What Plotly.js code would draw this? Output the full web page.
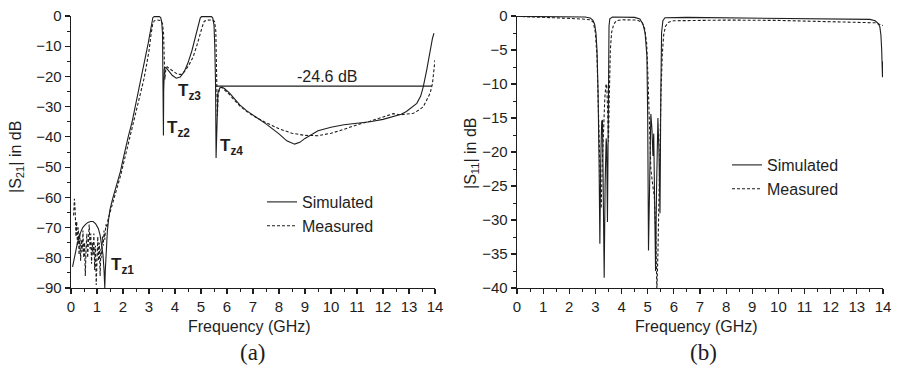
<!DOCTYPE html>
<html>
<head>
<meta charset="utf-8">
<script src="https://cdn.plot.ly/plotly-3.0.1.min.js"></script>
<style>html,body{margin:0;padding:0;background:#fff;}#chart{width:899px;height:367px;}</style>
</head>
<body>
<div id="chart"></div>
<script>
// ---- (a) |S21| ----
var s21SimF = [0.06,0.15,0.25,0.35,0.45,0.55,0.65,0.75,0.85,0.95,1.05,1.12,1.18,1.23,1.27,1.30,1.32,1.36,1.40,1.45,1.50,1.60,1.70,1.80,1.90,2.00,2.10,2.20,2.35,2.50,2.60,2.72,2.85,2.97,3.05,3.10,3.15,3.20,3.40,3.45,3.49,3.52,3.545,3.555,3.565,3.59,3.65,3.75,3.90,4.05,4.20,4.35,4.50,4.65,4.80,4.90,4.97,5.02,5.40,5.45,5.50,5.53,5.56,5.58,5.61,5.65,5.72,5.80,5.90,6.10,6.30,6.50,6.75,7.00,7.50,8.00,8.30,8.60,8.80,9.00,9.20,9.50,10.00,10.50,11.00,11.50,12.00,12.40,12.70,12.90,13.10,13.30,13.45,13.55,13.68,13.81,13.90,13.96];
var s21SimDb = [-83,-79,-75,-72,-70,-69,-68.3,-68,-68,-68.8,-70.3,-72.5,-75.5,-79,-84,-90,-84,-75,-71,-67,-64,-60.5,-57.5,-55,-51.5,-47.5,-43.5,-40,-35,-29,-25,-20,-14,-9,-4.5,-2,-0.5,-0.2,-0.2,-0.5,-2,-6,-20,-39.5,-25,-17.5,-17,-18,-19.7,-20.6,-20.2,-18.5,-15.5,-11.5,-6,-2.5,-0.7,-0.2,-0.2,-0.6,-3,-10,-23,-47,-32,-25.5,-23.8,-23.5,-24,-25.5,-27.5,-29.5,-31.3,-32.8,-35.7,-39,-41.3,-42.4,-41.8,-40.5,-39.4,-38,-36.8,-36,-35.5,-35,-34.2,-33.3,-32.5,-31.6,-30.3,-28.9,-26.5,-23.4,-17.9,-11.2,-7.5,-5.7];

var s21MeasF = [0.10,0.13,0.16,0.19,0.22,0.25,0.28,0.31,0.34,0.37,0.40,0.43,0.46,0.49,0.52,0.55,0.58,0.61,0.64,0.67,0.70,0.73,0.76,0.79,0.82,0.85,0.88,0.91,0.94,0.97,1.00,1.03,1.06,1.09,1.12,1.15,1.18,1.21,1.24,1.27,1.30,1.34,1.38,1.42,1.50,1.60,1.70,1.80,1.90,2.00,2.20,2.40,2.60,2.80,2.90,3.00,3.08,3.14,3.20,3.30,3.45,3.52,3.56,3.59,3.61,3.64,3.70,3.80,3.95,4.10,4.25,4.40,4.55,4.70,4.85,4.95,5.05,5.12,5.20,5.45,5.52,5.57,5.60,5.63,5.66,5.72,5.80,5.90,6.10,6.30,6.50,6.75,7.00,7.50,8.00,8.50,9.00,9.50,10.00,10.50,11.00,11.50,12.00,12.40,12.65,12.90,13.17,13.40,13.55,13.70,13.81,13.90,13.94,14.00];
var s21MeasDb = [-66,-60.5,-64,-73,-68,-76,-70,-79,-72,-81,-74,-78,-71,-80,-75,-86,-77,-72,-80,-73,-69,-77,-72,-82,-75,-79,-72,-84,-76,-89,-78,-73,-81,-75,-86,-77,-80,-73,-76,-71,-74,-69,-70,-67.5,-65,-62,-59,-56.5,-53,-49.5,-42.5,-36,-28.5,-21,-16.5,-11.5,-6,-2.8,-1.6,-1.3,-1.5,-2.5,-6,-14,-21,-18,-16.8,-17.5,-18.5,-19.3,-19.3,-18,-16,-13.5,-9.5,-6.2,-3.5,-1.8,-1.4,-1.3,-1.8,-5,-15,-33,-26,-24,-23.6,-24.3,-26,-28,-29.8,-31.5,-33,-35.3,-37.3,-38.8,-39.5,-39.6,-38.8,-37.5,-36,-34.8,-33.5,-32.3,-32.7,-32.5,-32.2,-31,-30,-27.5,-25.6,-22.5,-20,-14.6];

var refLineF = [5.54, 13.88];
var refLineDb = [-23.2, -23.2];

// ---- (b) |S11| ----
var s11SimF = [0.0,1.0,2.0,2.6,2.8,2.9,2.97,3.02,3.06,3.10,3.14,3.17,3.20,3.24,3.27,3.30,3.335,3.37,3.41,3.43,3.46,3.49,3.52,3.55,3.65,4.50,4.70,4.82,4.90,4.97,5.00,5.03,5.07,5.12,5.16,5.20,5.23,5.27,5.30,5.34,5.39,5.43,5.47,5.50,5.53,5.58,5.66,6.50,8.00,10.00,12.00,13.00,13.50,13.70,13.82,13.88,13.92,13.95,13.98,14.00];
var s11SimDb = [-0.05,-0.05,-0.1,-0.15,-0.3,-0.6,-1.2,-2.5,-5,-11,-22,-33.5,-22,-15.5,-15.3,-25,-38.5,-25,-18,-19,-30.3,-12,-1.5,-0.4,-0.15,-0.2,-0.45,-1.2,-2.5,-6,-15,-34.5,-22,-14.4,-16.5,-20.6,-17.3,-27,-37.5,-25,-15,-20,-29,-12,-2.5,-0.7,-0.25,-0.2,-0.25,-0.3,-0.35,-0.4,-0.5,-0.7,-1.1,-1.6,-2.8,-5,-9,-6.7];

var s11MeasF = [0.0,0.5,1.0,1.5,2.0,2.5,2.8,2.92,3.00,3.06,3.11,3.15,3.19,3.22,3.26,3.31,3.36,3.40,3.43,3.46,3.50,3.53,3.57,3.62,3.70,3.80,4.00,4.60,4.78,4.88,4.96,5.01,5.06,5.12,5.18,5.25,5.31,5.35,5.39,5.43,5.48,5.51,5.56,5.61,5.68,5.80,6.00,8.00,10.00,12.00,13.00,13.70,13.85,14.00];
var s11MeasDb = [-0.05,-0.1,-0.2,-0.3,-0.35,-0.45,-0.55,-0.9,-2.5,-6,-12,-19,-26,-28.3,-22,-15.5,-12,-10.2,-10,-13,-18.5,-12,-5,-2.4,-1.2,-0.7,-0.55,-0.6,-0.9,-1.8,-4,-9,-17,-22.5,-24.5,-26.5,-32,-40.5,-35,-26,-17,-11,-5.5,-2.8,-1.5,-0.9,-0.7,-0.6,-0.65,-0.8,-0.9,-1.0,-1.2,-1.4];

var xTickVals = [0,1,2,3,4,5,6,7,8,9,10,11,12,13,14];
var seriesNames = ['Simulated', 'Measured'];

var FONT = 'Liberation Sans, Arial, Helvetica, sans-serif';
var INK = '#1e1e1e';
var W = 899, H = 367;
function px(x){ return x / W; }
function py(y){ return 1 - y / H; }

var solid = {color: INK, width: 1.1, dash: 'solid'};
var dashed = {color: INK, width: 1.1, dash: '3px,2px'};

var traces = [
  {x: s21SimF, y: s21SimDb, mode: 'lines', name: seriesNames[0], line: solid, xaxis: 'x', yaxis: 'y', legend: 'legend'},
  {x: s21MeasF, y: s21MeasDb, mode: 'lines', name: seriesNames[1], line: dashed, xaxis: 'x', yaxis: 'y', legend: 'legend'},
  {x: refLineF, y: refLineDb, mode: 'lines', showlegend: false, line: {color: INK, width: 1.1}, xaxis: 'x', yaxis: 'y'},
  {x: s11SimF, y: s11SimDb, mode: 'lines', name: seriesNames[0], line: solid, xaxis: 'x2', yaxis: 'y2', legend: 'legend2'},
  {x: s11MeasF, y: s11MeasDb, mode: 'lines', name: seriesNames[1], line: dashed, xaxis: 'x2', yaxis: 'y2', legend: 'legend2'}
];

function xAxis(dom, anchor){
  return {domain: dom, anchor: anchor, range: [0, 14], tickvals: xTickVals, ticks: 'outside', ticklen: 5, tickwidth: 1.2, tickcolor: INK,
    ticklabelstandoff: 0,
    showline: true, linecolor: INK, linewidth: 1.3, showgrid: false, zeroline: false, fixedrange: true,
    minor: {dtick: 0.5, ticks: 'outside', ticklen: 3, tickwidth: 1, tickcolor: INK, showgrid: false},
    tickfont: {family: FONT, size: 15, color: INK}};
}
function yAxis(dom, anchor, rng, dt, mdt){
  return {domain: dom, anchor: anchor, range: rng, dtick: dt, tick0: 0, ticks: 'outside', ticklen: 5, tickwidth: 1.2, tickcolor: INK,
    showline: true, linecolor: INK, linewidth: 1.3, showgrid: false, zeroline: false, fixedrange: true,
    minor: {dtick: mdt, ticks: 'outside', ticklen: 3, tickwidth: 1, tickcolor: INK, showgrid: false},
    tickfont: {family: FONT, size: 15, color: INK}};
}

var yDom = [py(288), py(16)];

var tzFont = {family: FONT, size: 17, color: INK};
function paperText(x, y, text, font, angle){
  return {xref: 'paper', yref: 'paper', x: px(x), y: py(y), xanchor: 'center', yanchor: 'middle', text: text,
    showarrow: false, font: font, textangle: angle || 0};
}
var axisFont = {family: FONT, size: 16, color: INK};
var serifFont = {family: 'Liberation Serif, Times New Roman, serif', size: 23, color: INK};
var annotations = [
  paperText(249, 326, 'Frequency (GHz)', axisFont),
  paperText(696, 326, 'Frequency (GHz)', axisFont),
  paperText(16, 157, '|S<sub>21</sub>| in dB', axisFont, -90),
  paperText(471, 153, '|S<sub>11</sub>| in dB', axisFont, -90),
  paperText(253, 352, '(a)', serifFont),
  paperText(703, 352, '(b)', serifFont),
  {xref: 'x', yref: 'y', x: 1.48, y: -82.7, xanchor: 'left', yanchor: 'middle', text: '<b>T<sub>z1</sub></b>', showarrow: false, font: tzFont},
  {xref: 'x', yref: 'y', x: 3.62, y: -37.5, xanchor: 'left', yanchor: 'middle', text: '<b>T<sub>z2</sub></b>', showarrow: false, font: tzFont},
  {xref: 'x', yref: 'y', x: 4.05, y: -25.2, xanchor: 'left', yanchor: 'middle', text: '<b>T<sub>z3</sub></b>', showarrow: false, font: tzFont},
  {xref: 'x', yref: 'y', x: 5.66, y: -43.2, xanchor: 'left', yanchor: 'middle', text: '<b>T<sub>z4</sub></b>', showarrow: false, font: tzFont},
  {xref: 'x', yref: 'y', x: 9.83, y: -20.1, xanchor: 'center', yanchor: 'middle', text: '-24.6 dB', showarrow: false, font: {family: FONT, size: 16, color: INK}}
];

var legendFont = {family: FONT, size: 16, color: INK};
var layout = {
  width: W, height: H, margin: {l: 0, r: 0, t: 0, b: 0}, paper_bgcolor: '#fff', plot_bgcolor: '#fff',
  showlegend: true,
  xaxis: xAxis([px(71), px(435)], 'y'),
  yaxis: yAxis(yDom, 'x', [-90, 0], 10, 5),
  xaxis2: xAxis([px(517), px(883)], 'y2'),
  yaxis2: yAxis(yDom, 'x2', [-40, 0], 5, 2.5),
  legend: {x: px(262), y: py(185), xanchor: 'left', yanchor: 'top', bgcolor: 'rgba(0,0,0,0)', borderwidth: 0,
    font: legendFont, tracegroupgap: 0, itemwidth: 30},
  legend2: {x: px(727), y: py(148), xanchor: 'left', yanchor: 'top', bgcolor: 'rgba(0,0,0,0)', borderwidth: 0,
    font: legendFont, tracegroupgap: 0, itemwidth: 30},
  annotations: annotations
};

Plotly.newPlot('chart', traces, layout, {staticPlot: true, displayModeBar: false});
</script>
</body>
</html>
